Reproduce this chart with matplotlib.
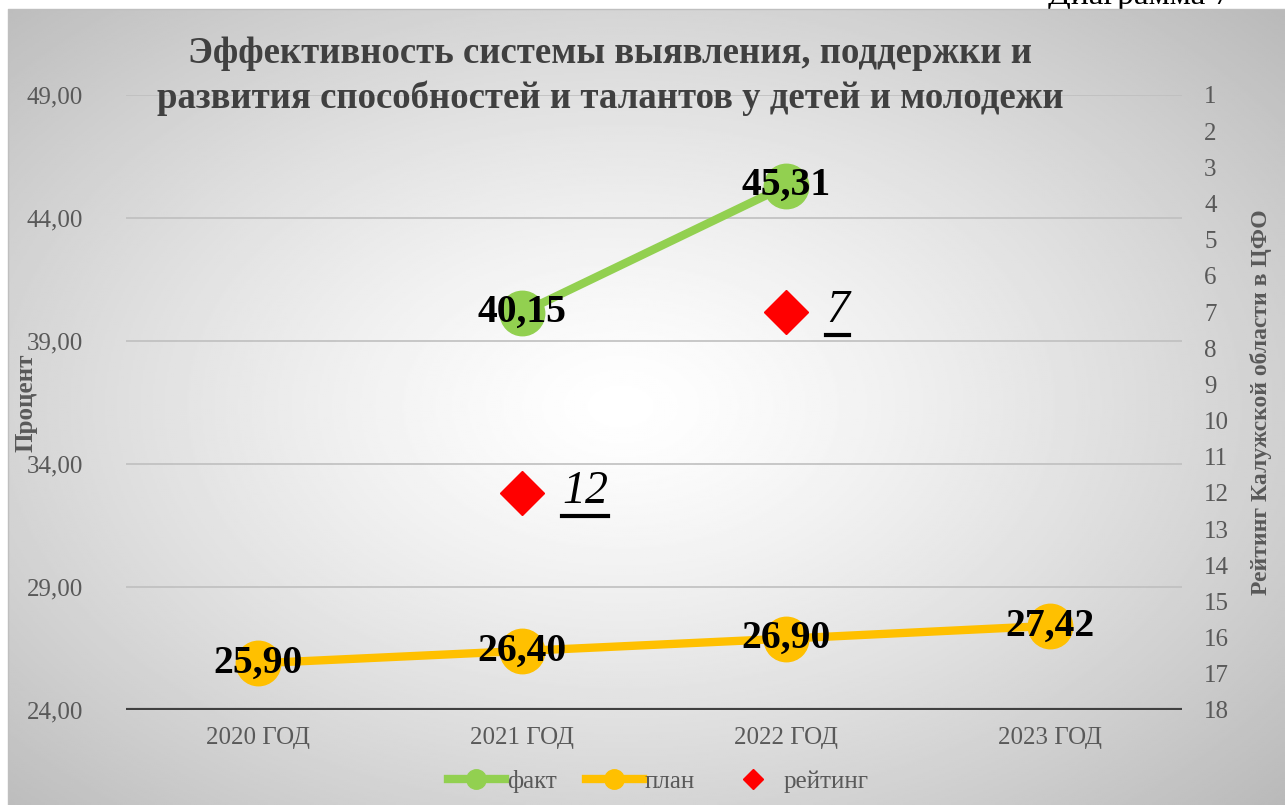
import numpy as np
import matplotlib
matplotlib.use("Agg")
import matplotlib.pyplot as plt
from matplotlib.lines import Line2D

plt.rcParams['font.family'] = ['Liberation Serif', 'DejaVu Serif']

# данные
years = ["2020 ГОД", "2021 ГОД", "2022 ГОД", "2023 ГОД"]
fact = [None, 40.15, 45.31, None]
plan = [25.90, 26.40, 26.90, 27.42]
rating = [None, 12, 7, None]
y_ticks = [24, 29, 34, 39, 44, 49]
rank_ticks = list(range(1, 19))

GREEN = '#92d050'
ORANGE = '#ffc000'
RED = '#ff0000'
GREY = '#595959'

fig = plt.figure(figsize=(12.85, 8.05), dpi=100)

# фон: радиальный градиент
bg = fig.add_axes([8 / 1285, 0, 1 - 8 / 1285, 1 - 9 / 805], zorder=-10)
yy, xx = np.mgrid[0:1:400j, 0:1:640j]
r = np.sqrt(((xx - 0.48) / 0.72) ** 2 + ((yy - 0.5) / 0.75) ** 2)
shade = 1.0 - 0.28 * np.clip(r, 0, 1) ** 1.3
bg.imshow(shade, cmap='gray', vmin=0, vmax=1, aspect='auto', extent=[0, 1, 0, 1])
bg.set_axis_off()
fig.add_artist(Line2D([8 / 1285, 8 / 1285, 1], [0, 1 - 9 / 805, 1 - 9 / 805],
                      color='#bfbfbf', lw=1.0, transform=fig.transFigure))
fig.text(1230 / 1285, 1 - 4 / 805, "Диаграмма 7", ha='right', va='baseline', fontsize=24,
         color='black', zorder=-20)

ax = fig.add_axes([126 / 1285, 95 / 805, 1056 / 1285, 615 / 805])
ax.patch.set_alpha(0)
x = np.arange(len(years))

ax.set_xlim(-0.5, 3.5)
ax.set_ylim(24, 49)
ax.set_yticks(y_ticks)
ax.set_yticklabels([f"{v:.2f}".replace('.', ',') for v in y_ticks])
ax.set_xticks(x)
ax.set_xticklabels(years)
ax.tick_params(axis='both', length=0, labelsize=18, colors=GREY, pad=12)
ax.tick_params(axis='y', pad=31)
for s in ax.spines.values():
    s.set_visible(False)
for v in y_ticks[1:]:
    ax.axhline(v, color='#bfbfbf', lw=1.2, zorder=0)
ax.axhline(24, color='#404040', lw=3, zorder=1)

fx = [i for i, v in enumerate(fact) if v is not None]
fy = [v for v in fact if v is not None]
ax.plot(fx, fy, color=GREEN, lw=6, marker='o', ms=32, zorder=3)
ax.plot(x, plan, color=ORANGE, lw=6, marker='o', ms=32, zorder=3)
for i, v in zip(fx, fy):
    ax.text(i, v, f"{v:.2f}".replace('.', ','), ha='center', va='center',
            fontsize=28.5, fontweight='bold', color='black', zorder=5)
for i, v in enumerate(plan):
    ax.text(i, v, f"{v:.2f}".replace('.', ','), ha='center', va='center',
            fontsize=28.5, fontweight='bold', color='black', zorder=5)

ax.set_ylabel("Процент", fontsize=18, fontweight='bold', color=GREY)
ax.yaxis.set_label_coords(-88 / 1056, 0.5)

ax2 = ax.twinx()
ax2.set_ylim(18, 1)
ax2.set_yticks(rank_ticks)
ax2.tick_params(axis='y', length=0, labelsize=18, colors=GREY, pad=16)
for s in ax2.spines.values():
    s.set_visible(False)
rx = [i for i, v in enumerate(rating) if v is not None]
ry = [v for v in rating if v is not None]
ax2.plot(rx, ry, ls='none', marker='D', ms=22, color=RED, zorder=4)
rank_texts = []
for i, v in zip(rx, ry):
    t = ax2.annotate(str(v), (i, v), xytext=(29, 1), textcoords='offset points',
                     ha='left', va='center', fontsize=33, fontstyle='italic', color='black')
    rank_texts.append(t)
ax2.set_ylabel("Рейтинг Калужской области в ЦФО", fontsize=17, fontweight='bold', color=GREY)
ax2.yaxis.set_label_coords(1124 / 1056, 0.5)

fig.text(0.475, 1 - 76 / 805, "Эффективность системы выявления, поддержки и\n"
         "развития способностей и талантов у детей и молодежи",
         ha='center', va='center', fontsize=26.5, fontweight='bold', color='#404040',
         linespacing=1.35)

handles = [Line2D([], [], color=GREEN, lw=6, marker='o', ms=14),
           Line2D([], [], color=ORANGE, lw=6, marker='o', ms=14),
           Line2D([], [], color=RED, ls='none', marker='D', ms=10)]
fig.legend(handles, ["факт", "план", "рейтинг"], loc='center', ncol=3,
           bbox_to_anchor=(658 / 1285, 1 - 781 / 805), frameon=False, fontsize=18,
           labelcolor=GREY, handlelength=2.3, handletextpad=0.08, columnspacing=1.15)

# подчёркивание подписей рейтинга
fig.canvas.draw()
W, H = fig.bbox.width, fig.bbox.height
for t in rank_texts:
    bb = t.get_window_extent()
    yl = (bb.y0 - 3) / H
    fig.add_artist(Line2D([bb.x0 / W, bb.x1 / W], [yl, yl], color='black', lw=3,
                          transform=fig.transFigure))

fig.savefig("out.png", dpi=100)
